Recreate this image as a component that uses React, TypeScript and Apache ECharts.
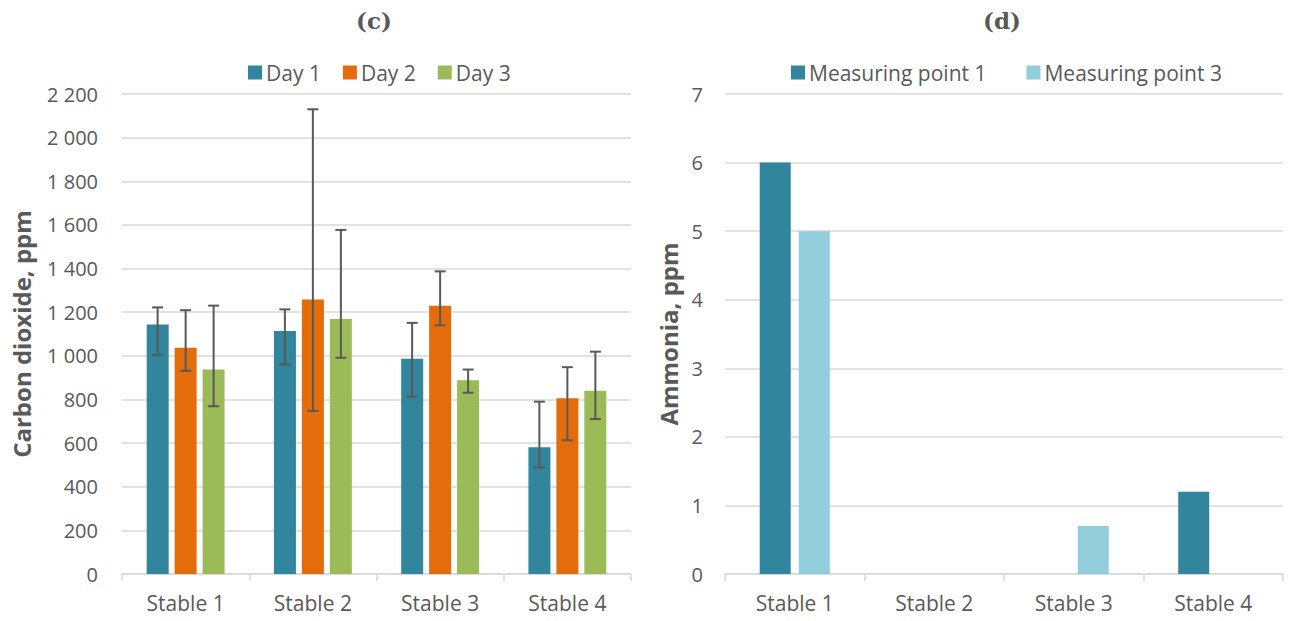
import React, { useEffect, useRef } from "react";
import * as echarts from "echarts";

const stables = ["Stable 1", "Stable 2", "Stable 3", "Stable 4"];
const daySeries = ["Day 1", "Day 2", "Day 3"];
const day1 = [1144, 1114, 986, 581];
const day2 = [1037, 1258, 1230, 805];
const day3 = [937, 1169, 888, 840];
const day1Low = [1003, 960, 813, 488];
const day1High = [1222, 1213, 1151, 790];
const day2Low = [931, 747, 1140, 613];
const day2High = [1209, 2130, 1387, 948];
const day3Low = [769, 991, 831, 710];
const day3High = [1230, 1577, 937, 1019];

const mpSeries = ["Measuring point 1", "Measuring point 3"];
const mp1 = [6, 0, 0, 1.2];
const mp3 = [5, 0, 0.7, 0];

const FONT = "'Open Sans', 'Noto Sans', sans-serif";
const SERIF = "'DejaVu Serif', 'Liberation Serif', serif";
const GREY = "#595959";
const GRID = "#d9d9d9";
const COLORS = ["#31859C", "#E46C0A", "#9BBB59"];
const MP_COLORS = ["#31859C", "#92CDDC"];
const BAR_W = 22;
const BAR_STEP = 28;

function errSeries(name: string, low: number[], high: number[], idx: number) {
  return {
    type: "custom",
    name: name + " err",
    xAxisIndex: 0,
    yAxisIndex: 0,
    z: 5,
    silent: true,
    data: low.map((l, i) => [i, l, high[i]]),
    renderItem: (params: any, api: any) => {
      const c = api.value(0);
      const lo = api.coord([c, api.value(1)]);
      const hi = api.coord([c, api.value(2)]);
      const x = lo[0] + (idx - 1) * BAR_STEP;
      const cap = 5.5;
      const style = { stroke: GREY, lineWidth: 2 };
      return {
        type: "group",
        children: [
          { type: "line", shape: { x1: x, y1: lo[1], x2: x, y2: hi[1] }, style },
          { type: "line", shape: { x1: x - cap, y1: hi[1], x2: x + cap, y2: hi[1] }, style },
          { type: "line", shape: { x1: x - cap, y1: lo[1], x2: x + cap, y2: lo[1] }, style },
        ],
      };
    },
  };
}

export default function App() {
  const ref = useRef<HTMLDivElement>(null);
  useEffect(() => {
    const chart = echarts.init(ref.current!, null, { renderer: "svg" });
    const catAxis = (gridIndex: number) => ({
      type: "category",
      gridIndex,
      data: stables,
      axisLine: { lineStyle: { color: GRID, width: 1.5 } },
      axisTick: { show: true, length: 7, lineStyle: { color: GRID, width: 1.5 } },
      axisLabel: { color: GREY, fontSize: 21, fontFamily: FONT, margin: 18 },
    });
    const legendText = { color: GREY, fontSize: 21, fontFamily: FONT, padding: [0, 0, 0, -1] };
    const titleStyle = { fontSize: 23, fontWeight: "bold", fill: GREY, fontFamily: SERIF, textAlign: "center", textVerticalAlign: "middle" };
    const option: any = {
      animation: false,
      textStyle: { fontFamily: FONT },
      graphic: [
        { type: "text", x: 374, y: 20, style: { ...titleStyle, text: "(c)" } },
        { type: "text", x: 1002, y: 20, style: { ...titleStyle, text: "(d)" } },
      ],
      legend: [
        {
          data: daySeries,
          left: 243,
          top: 57,
          itemWidth: 14,
          itemHeight: 14,
          itemGap: 22,
          icon: "rect",
          textStyle: legendText,
        },
        {
          data: mpSeries,
          left: 786,
          top: 57,
          itemWidth: 14,
          itemHeight: 14,
          itemGap: 40,
          icon: "rect",
          textStyle: legendText,
        },
      ],
      grid: [
        { left: 122, right: 659, top: 94, bottom: 47 },
        { left: 725, right: 7, top: 94, bottom: 47 },
      ],
      xAxis: [catAxis(0), catAxis(1)],
      yAxis: [
        {
          type: "value",
          gridIndex: 0,
          min: 0,
          max: 2200,
          interval: 200,
          name: "Carbon dioxide, ppm",
          nameLocation: "middle",
          nameGap: 89,
          nameTextStyle: { color: GREY, fontSize: 24, fontWeight: "bold", fontFamily: FONT },
          axisLine: { show: false },
          axisTick: { show: false },
          splitLine: { lineStyle: { color: GRID, width: 1.5 } },
          axisLabel: {
            color: GREY,
            fontSize: 20,
            fontFamily: FONT,
            margin: 24,
            formatter: (v: number) => String(v).replace(/\B(?=(\d{3})+(?!\d))/g, " "),
          },
        },
        {
          type: "value",
          gridIndex: 1,
          min: 0,
          max: 7,
          interval: 1,
          name: "Ammonia, ppm",
          nameLocation: "middle",
          nameGap: 45,
          nameTextStyle: { color: GREY, fontSize: 24, fontWeight: "bold", fontFamily: FONT },
          axisLine: { show: false },
          axisTick: { show: false },
          splitLine: { lineStyle: { color: GRID, width: 1.5 } },
          axisLabel: { color: GREY, fontSize: 20, fontFamily: FONT, margin: 22 },
        },
      ],
      series: [
        ...[day1, day2, day3].map((d, i) => ({
          type: "bar",
          name: daySeries[i],
          xAxisIndex: 0,
          yAxisIndex: 0,
          data: d,
          barWidth: BAR_W,
          barGap: "27%",
          itemStyle: { color: COLORS[i] },
        })),
        errSeries("Day 1", day1Low, day1High, 0),
        errSeries("Day 2", day2Low, day2High, 1),
        errSeries("Day 3", day3Low, day3High, 2),
        ...[mp1, mp3].map((d, i) => ({
          type: "bar",
          name: mpSeries[i],
          xAxisIndex: 1,
          yAxisIndex: 1,
          data: d,
          barWidth: 31,
          barGap: "26%",
          itemStyle: { color: MP_COLORS[i] },
        })),
      ],
    };
    chart.setOption(option);
    return () => chart.dispose();
  }, []);
  return (
    <div
      ref={ref}
      style={{ position: "fixed", left: 0, top: 0, width: 1290, height: 621, background: "#fff" }}
    />
  );
}
